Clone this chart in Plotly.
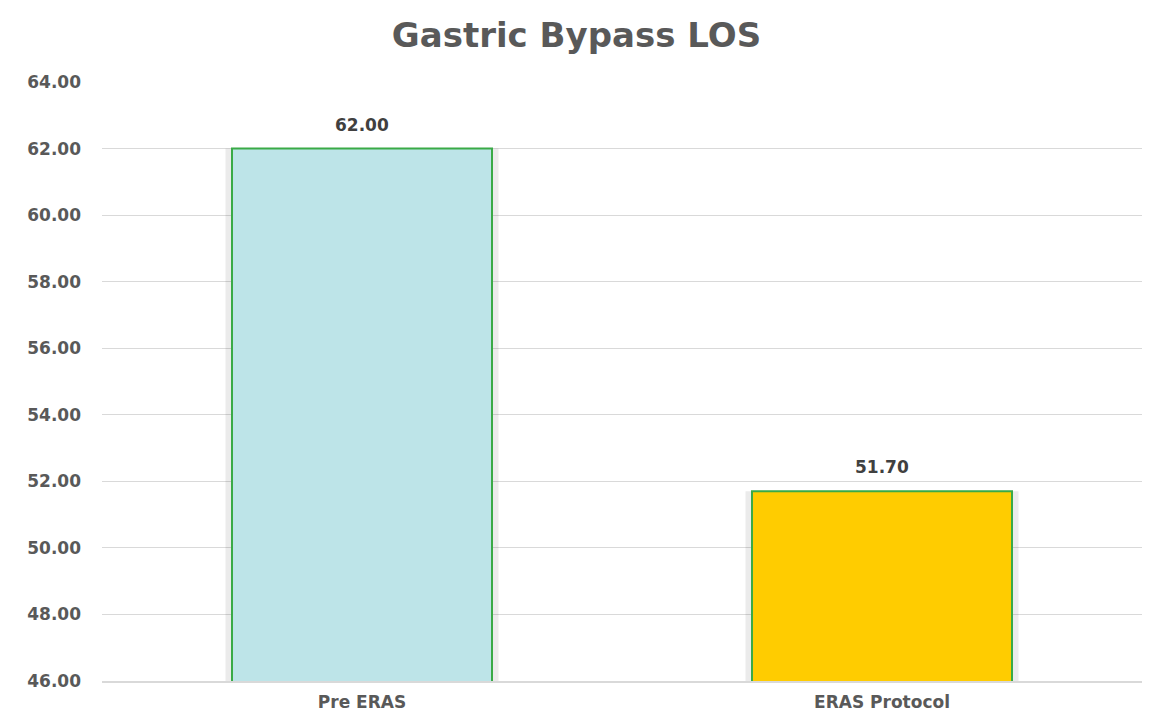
import plotly.graph_objects as go

categories = ["Pre ERAS", "ERAS Protocol"]
values = [62.00, 51.70]
bar_colors = ["#BDE4E8", "#FFCC00"]
title_text = "Gastric Bypass LOS"
y_ticks = [46, 48, 50, 52, 54, 56, 58, 60, 62, 64]

FONT = "DejaVu Sans"
GREY = "#595959"

fig = go.Figure()
# soft shadow behind bars
fig.add_trace(go.Bar(
    x=categories, y=values, width=0.525,
    marker=dict(color="rgba(0,0,0,0.08)", line=dict(width=0)),
    hoverinfo="skip", showlegend=False,
))
fig.add_trace(go.Bar(
    x=categories, y=values, width=0.5,
    marker=dict(color=bar_colors, line=dict(color="#3AAA47", width=2)),
    showlegend=False,
))
fig.update_layout(barmode="overlay")

for c, v in zip(categories, values):
    fig.add_annotation(
        x=c, y=v, text=f"{v:.2f}", showarrow=False,
        yshift=24, font=dict(family=FONT, size=17, color="#404040", weight="bold"),
    )

fig.update_layout(
    width=1153, height=725,
    paper_bgcolor="white", plot_bgcolor="white",
    margin=dict(l=102, r=11, t=82, b=44),
    title=dict(text=title_text, x=0.5, xanchor="center",
               y=0.952, yanchor="middle",
               font=dict(family=FONT, size=34, color=GREY, weight="bold")),
    xaxis=dict(
        automargin=False,
        showgrid=False, showline=True, linecolor="#D9D9D9", linewidth=1.5,
        tickfont=dict(family=FONT, size=17, color=GREY, weight="bold"),
        ticklabelstandoff=5,
    ),
    yaxis=dict(
        automargin=False,
        range=[46, 64], tickvals=y_ticks, tickformat=".2f",
        showgrid=True, gridcolor="#D9D9D9", gridwidth=1,
        zeroline=False, showline=False,
        tickfont=dict(family=FONT, size=17, color=GREY, weight="bold"),
        ticklabelstandoff=20,
        ticks="",
    ),
)

fig.write_html("out.html", config={"displayModeBar": False})

with open("out.html", "r", encoding="utf-8") as f:
    html = f.read()
html = html.replace("<body>", '<body style="margin:0;padding:0;">', 1)
with open("out.html", "w", encoding="utf-8") as f:
    f.write(html)
